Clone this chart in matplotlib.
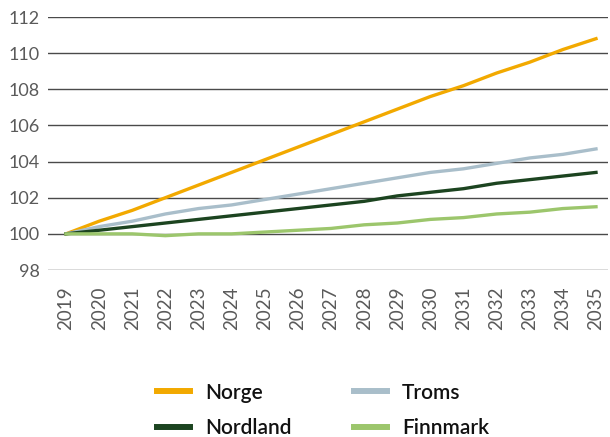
import matplotlib
matplotlib.use('Agg')
import matplotlib.pyplot as plt

years = list(range(2019, 2036))
norge = [100, 100.7, 101.3, 102.0, 102.7, 103.4, 104.1, 104.8, 105.5, 106.2,
         106.9, 107.6, 108.2, 108.9, 109.5, 110.2, 110.8]
troms = [100, 100.4, 100.7, 101.1, 101.4, 101.6, 101.9, 102.2, 102.5, 102.8,
         103.1, 103.4, 103.6, 103.9, 104.2, 104.4, 104.7]
nordland = [100, 100.2, 100.4, 100.6, 100.8, 101.0, 101.2, 101.4, 101.6, 101.8,
            102.1, 102.3, 102.5, 102.8, 103.0, 103.2, 103.4]
finnmark = [100, 100.0, 100.0, 99.9, 100.0, 100.0, 100.1, 100.2, 100.3, 100.5,
            100.6, 100.8, 100.9, 101.1, 101.2, 101.4, 101.5]
yticks = list(range(98, 113, 2))

plt.rcParams['font.family'] = ['Lato', 'DejaVu Sans']

fig = plt.figure(figsize=(6.1, 4.37), dpi=100)
ax = fig.add_axes([48 / 610, 1 - 270 / 437, 560 / 610, 253 / 437])

for y in yticks:
    ax.axhline(y, color='#4a4a4a', lw=1.0, zorder=1)

l1, = ax.plot(years, norge, color='#F2A900', lw=2.4, label='Norge', zorder=3)
l2, = ax.plot(years, troms, color='#A9BECA', lw=2.4, label='Troms', zorder=3)
l3, = ax.plot(years, nordland, color='#1C4420', lw=2.4, label='Nordland', zorder=3)
l4, = ax.plot(years, finnmark, color='#9CC66C', lw=2.4, label='Finnmark', zorder=3)

ax.set_xlim(2019 - 18 / 33.125, 2035 + 12 / 33.125)
ax.set_ylim(98, 112)
ax.set_yticks(yticks)
ax.set_xticks(years)
ax.set_xticklabels([str(y) for y in years], rotation=90)
ax.tick_params(length=0, colors='#5a5a5a')
ax.tick_params(axis='x', labelsize=13.5, pad=12)
ax.tick_params(axis='y', labelsize=13, pad=6)
for s in ax.spines.values():
    s.set_visible(False)

leg = fig.legend([l1, l3, l2, l4], ['Norge', 'Nordland', 'Troms', 'Finnmark'],
                 ncol=2, loc='center', bbox_to_anchor=(323 / 610, 1 - 410.5 / 437),
                 frameon=False, fontsize=15, handlelength=1.6,
                 columnspacing=3.0, handletextpad=0.7, labelspacing=0.75)
for t in leg.get_texts():
    t.set_fontweight('semibold')
    t.set_color('#111111')
for h in leg.legend_handles:
    h.set_linewidth(4.3)

fig.savefig('out.png')
